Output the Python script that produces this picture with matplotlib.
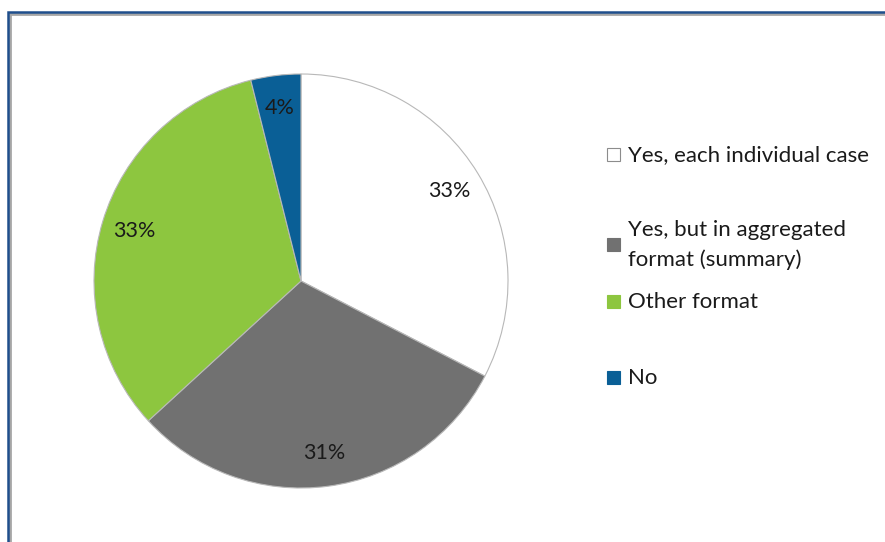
import matplotlib
matplotlib.use('Agg')
import matplotlib.pyplot as plt
from matplotlib.patches import Rectangle

# Share of responses
labels = ['Yes, each individual case', 'Yes, but in aggregated\nformat (summary)',
          'Other format', 'No']
shares = [32.6, 30.6, 32.9, 3.9]
colors = ['#ffffff', '#717171', '#8dc63f', '#0a5f96']

plt.rcParams['font.family'] = ['Lato', 'DejaVu Sans']

fig = plt.figure(figsize=(8.85, 5.42), dpi=100)
W, H = 885, 542

# chart frame (blue with a gray shadow), runs past right/bottom edge
fig.patches.append(Rectangle((10 / W, -0.1), 1.2, (H - 14) / H + 0.1, transform=fig.transFigure,
                             fill=False, edgecolor='#a6a6a6', linewidth=2.0, zorder=0))
fig.patches.append(Rectangle((8 / W, -0.1), 1.2, (H - 12) / H + 0.1, transform=fig.transFigure,
                             fill=False, edgecolor='#1f4e8c', linewidth=1.8, zorder=1))

cx, cy, r = 301, H - 281, 207
ax = fig.add_axes([(cx - r) / W, (cy - r) / H, 2 * r / W, 2 * r / H])
wedges, texts, autotexts = ax.pie(shares, colors=colors, startangle=90, counterclock=False,
                                  autopct='%.0f%%', pctdistance=0.84,
                                  wedgeprops=dict(edgecolor='#b8b8b8', linewidth=0.8),
                                  textprops=dict(fontsize=15.5, color='#1a1a1a'))
ax.set_xlim(-1, 1)
ax.set_ylim(-1, 1)
ax.set_aspect('equal')
for w in wedges:
    w.set_clip_on(False)

# legend entries drawn by hand to keep Excel-like spacing
leg_y = [155, 245, 302, 378]
for lab, col, y in zip(labels, colors, leg_y):
    fig.patches.append(Rectangle((607 / W, (H - y - 6) / H), 13 / W, 13 / H,
                                 transform=fig.transFigure, facecolor=col,
                                 edgecolor='#8c8c8c' if col == '#ffffff' else col, linewidth=0.8))
    fig.text(628 / W, (H - y) / H, lab, fontsize=16, color='#1a1a1a', va='center', ha='left',
             linespacing=1.55)

fig.savefig('out.png', dpi=100)
